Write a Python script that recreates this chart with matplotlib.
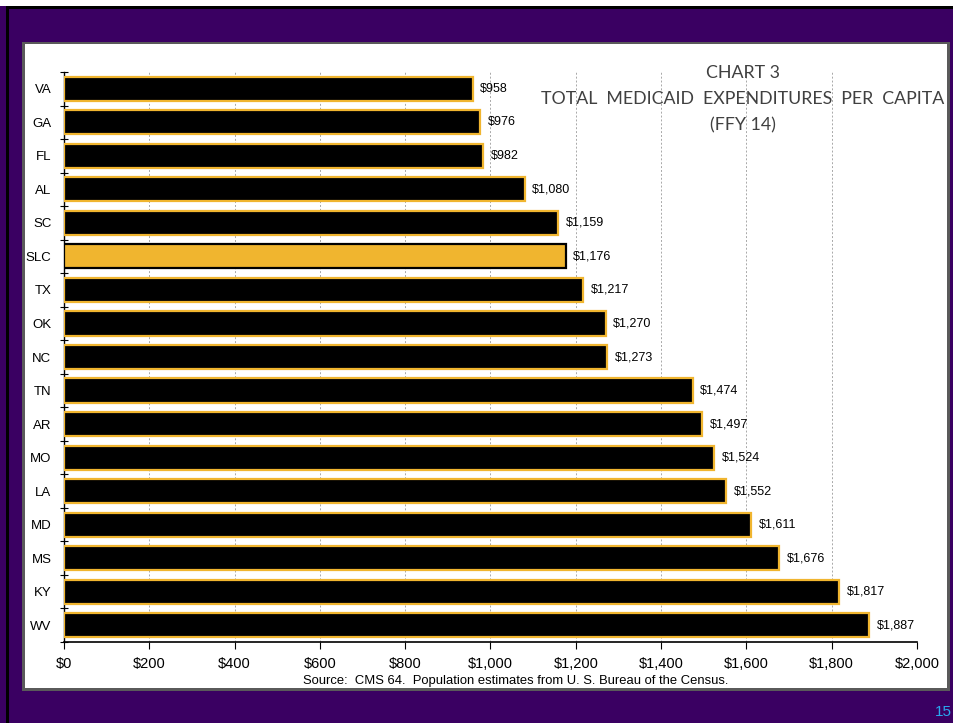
import numpy as np
import matplotlib.pyplot as plt
from matplotlib.patches import Rectangle
from matplotlib.ticker import FuncFormatter

states = ["VA", "GA", "FL", "AL", "SC", "SLC", "TX", "OK", "NC",
          "TN", "AR", "MO", "LA", "MD", "MS", "KY", "WV"]
spend = [958, 976, 982, 1080, 1159, 1176, 1217, 1270, 1273,
         1474, 1497, 1524, 1552, 1611, 1676, 1817, 1887]
highlight = "SLC"

W, H = 954, 723
purple = "#3a0062"
gold = "#f0b52f"

fig = plt.figure(figsize=(W / 100, H / 100), dpi=100, facecolor=purple)

def px_rect(x0, y0, x1, y1, **kw):
    # rectangle given in pixel coords, y measured from top
    fig.patches.append(Rectangle((x0 / W, 1 - y1 / H), (x1 - x0) / W, (y1 - y0) / H,
                                 transform=fig.transFigure, figure=fig, zorder=-5, **kw))

# slide frame
px_rect(0, 0, W, 6, facecolor="white", edgecolor="none")
px_rect(6, 6, W, 9, facecolor="black", edgecolor="none")
px_rect(6, 6, 9, H, facecolor="black", edgecolor="none")
px_rect(22, 42, 950, 691, facecolor="#5a5a5a", edgecolor="none")
px_rect(25, 44, 947, 688, facecolor="white", edgecolor="none")

ax = fig.add_axes([64 / W, 1 - 642 / H, 853 / W, 570 / H])
ax.set_facecolor("none")
ax.set_zorder(2)

y = np.arange(len(states))
fills = [gold if s == highlight else "black" for s in states]
edges = ["black" if s == highlight else gold for s in states]
ax.barh(y, spend, height=0.72, color=fills, edgecolor=edges, linewidth=1.6, zorder=3)

for yi, v in zip(y, spend):
    ax.text(v + 18, yi, "${:,}".format(v), va="center", ha="left",
            fontsize=9, family="Liberation Sans", zorder=4)

ax.set_xlim(0, 2000)
ax.set_ylim(len(states) - 0.5, -0.5)
ax.set_xticks(np.arange(0, 2001, 200))
ax.xaxis.set_major_formatter(FuncFormatter(lambda v, p: "${:,.0f}".format(v)))
ax.set_yticks(y)
ax.set_yticklabels(states)
ax.set_yticks(np.arange(-0.5, len(states), 1), minor=True)
ax.tick_params(axis="y", which="major", length=0, pad=9, labelsize=9.5)
ax.tick_params(axis="y", which="minor", length=6, direction="inout", width=0.8)
ax.tick_params(axis="x", length=5, width=0.8, labelsize=10.5, pad=6)
for lab in ax.get_xticklabels():
    lab.set_family("Liberation Sans")
for lab in ax.get_yticklabels():
    lab.set_family("Liberation Sans")

ax.grid(axis="x", color="#a8a8a8", linestyle=(0, (2, 2)), linewidth=0.7, zorder=0)
ax.spines["top"].set_visible(False)
ax.spines["right"].set_visible(False)
ax.spines["left"].set_linewidth(1.0)
ax.spines["bottom"].set_linewidth(1.2)

title = "CHART 3\nTOTAL  MEDICAID  EXPENDITURES  PER  CAPITA\n(FFY 14)"
fig.text(743 / W, 1 - 65 / H, title, ha="center", va="top", fontsize=12.8,
         color="#404040", family=["Lato", "DejaVu Sans"], linespacing=1.78, zorder=5)

fig.text(516 / W, 1 - 681 / H,
         "Source:  CMS 64.  Population estimates from U. S. Bureau of the Census.",
         ha="center", va="center", fontsize=9.4, family="Liberation Sans")

fig.text(935 / W, 1 - 712 / H, "15", ha="left", va="center", fontsize=11,
         color="#29a8f0", family="Liberation Sans")

fig.savefig("out.png", dpi=100, facecolor=purple)
